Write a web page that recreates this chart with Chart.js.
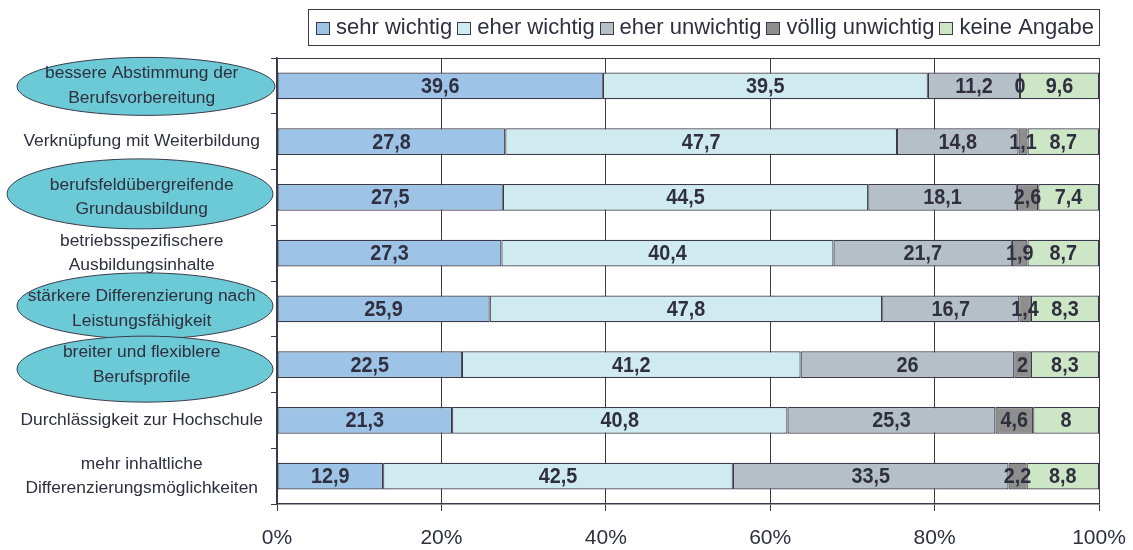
<!DOCTYPE html>
<html>
<head>
<meta charset="utf-8">
<script src="https://cdn.jsdelivr.net/npm/chart.js@4.4.1/dist/chart.umd.min.js"></script>
<style>
  html, body { margin: 0; padding: 0; background: #ffffff; }
  #wrap { width: 1133px; height: 550px; position: relative; }
</style>
</head>
<body>
<div id="wrap"><canvas id="c"></canvas></div>
<script>
// ---- data ----
const categories = [
  ["bessere Abstimmung der", "Berufsvorbereitung"],
  "Verknüpfung mit Weiterbildung",
  ["berufsfeldübergreifende", "Grundausbildung"],
  ["betriebsspezifischere", "Ausbildungsinhalte"],
  ["stärkere Differenzierung nach", "Leistungsfähigkeit"],
  ["breiter und flexiblere", "Berufsprofile"],
  "Durchlässigkeit zur Hochschule",
  ["mehr inhaltliche", "Differenzierungsmöglichkeiten"]
];
const seriesNames = ["sehr wichtig", "eher wichtig", "eher unwichtig", "völlig unwichtig", "keine Angabe"];
const sehrWichtig     = [39.6, 27.8, 27.5, 27.3, 25.9, 22.5, 21.3, 12.9];
const eherWichtig     = [39.5, 47.7, 44.5, 40.4, 47.8, 41.2, 40.8, 42.5];
const eherUnwichtig   = [11.2, 14.8, 18.1, 21.7, 16.7, 26.0, 25.3, 33.5];
const voelligUnwichtig= [0,    1.1,  2.6,  1.9,  1.4,  2.0,  4.6,  2.2];
const keineAngabe     = [9.6,  8.7,  7.4,  8.7,  8.3,  8.3,  8.0,  8.8];
const xTickValues = [0, 20, 40, 60, 80, 100];
const highlighted = [0, 2, 4, 5]; // categories shown in ellipses

// ---- styling ----
const colors = ["#9DC3E6", "#CFEBF0", "#B5BFC6", "#8E8E8E", "#CDE6C5"];
const rawSeries = [sehrWichtig, eherWichtig, eherUnwichtig, voelligUnwichtig, keineAngabe];
const rowSums = categories.map((_, i) => rawSeries.reduce((s, arr) => s + arr[i], 0));
const textColor = "#2f2f3f";
const lineColor = "#3a3a4a";
const FONT = "'Liberation Sans', Arial, sans-serif";

const datasets = rawSeries.map((arr, k) => ({
  label: seriesNames[k],
  data: arr.map((v, i) => v / rowSums[i] * 100),
  raw: arr,
  backgroundColor: colors[k],
  borderColor: lineColor,
  borderWidth: 1.2,
  borderSkipped: false,
  barPercentage: 0.48,
  categoryPercentage: 1.0
}));

const ellipseStyle = {
  0: { cx: 146, dy: 0.5, rx: 129, ry: 29 },
  2: { cx: 140, dy: -3.5, rx: 133, ry: 35 },
  4: { cx: 145, dy: -3, rx: 128, ry: 33 },
  5: { cx: 145, dy: 4.5, rx: 128, ry: 33 }
};

const ellipsePlugin = {
  id: 'ellipses',
  beforeDraw(chart) {
    const ctx = chart.ctx, y = chart.scales.y;
    ctx.save();
    highlighted.forEach(i => {
      const s = ellipseStyle[i];
      const cy = y.getPixelForValue(i) + s.dy;
      ctx.beginPath();
      ctx.ellipse(s.cx, cy, s.rx, s.ry, 0, 0, Math.PI * 2);
      ctx.fillStyle = "#6CCAD6";
      ctx.fill();
      ctx.lineWidth = 1;
      ctx.strokeStyle = "#3a3a4a";
      ctx.stroke();
    });
    ctx.restore();
  }
};

const framePlugin = {
  id: 'frame',
  beforeDatasetsDraw(chart) {
    const ctx = chart.ctx, a = chart.chartArea;
    ctx.save();
    ctx.strokeStyle = lineColor;
    ctx.lineWidth = 1;
    ctx.beginPath();
    ctx.moveTo(a.left, Math.round(a.top) + 0.5);
    ctx.lineTo(a.right, Math.round(a.top) + 0.5);
    ctx.stroke();
    ctx.restore();
  },
  afterDraw(chart) {
    const lg = chart.legend;
    if (!lg || !lg.legendHitBoxes || !lg.legendHitBoxes.length) return;
    const hb = lg.legendHitBoxes;
    const first = hb[0], last = hb[hb.length - 1];
    const ctx = chart.ctx;
    const cy = first.top + first.height / 2;
    ctx.save();
    // legend squares
    hb.forEach((h, i) => {
      const bx = Math.round(h.left) + 0.5, by = Math.round(cy - 6.5) + 0.5;
      ctx.fillStyle = colors[i];
      ctx.fillRect(bx, by, 13, 12);
      ctx.strokeStyle = lineColor;
      ctx.lineWidth = 1;
      ctx.strokeRect(bx, by, 13, 12);
    });
    // legend frame
    ctx.strokeStyle = lineColor;
    ctx.lineWidth = 1;
    const l = Math.round(first.left - 8) + 0.5;
    const r = Math.round(last.left + last.width + 5) + 0.5;
    const t = Math.round(cy - 19) + 0.5;
    const b = Math.round(cy + 17) + 0.5;
    ctx.strokeRect(l, t, r - l, b - t);
    ctx.restore();
  }
};

const valueLabelPlugin = {
  id: 'valueLabels',
  afterDatasetsDraw(chart) {
    const ctx = chart.ctx;
    ctx.save();
    ctx.font = "bold 22px " + FONT;
    ctx.fillStyle = textColor;
    ctx.textAlign = "center";
    ctx.textBaseline = "middle";
    chart.data.datasets.forEach((ds, k) => {
      const meta = chart.getDatasetMeta(k);
      meta.data.forEach((el, i) => {
        const p = el.getProps(['x', 'y', 'base'], true);
        const cx = (p.x + p.base) / 2;
        const txt = String(ds.raw[i]).replace('.', ',');
        ctx.save();
        ctx.translate(cx, p.y + 1);
        ctx.scale(0.9, 1);
        ctx.fillText(txt, 0, 0);
        ctx.restore();
      });
    });
    ctx.restore();
  }
};

new Chart(document.getElementById('c'), {
  type: 'bar',
  data: { labels: categories, datasets },
  plugins: [ellipsePlugin, framePlugin, valueLabelPlugin],
  options: {
    indexAxis: 'y',
    responsive: true,
    maintainAspectRatio: false,
    animation: false,
    layout: { padding: { top: 12, right: 0, bottom: 0, left: 0 } },
    plugins: {
      tooltip: { enabled: false },
      legend: {
        position: 'top',
        align: 'end',
        fullSize: false,
        labels: {
          boxWidth: 9,
          boxHeight: 13,
          padding: 5,
          color: textColor,
          font: { family: FONT, size: 22 },
          generateLabels(chart) {
            return chart.data.datasets.map((ds, i) => ({
              text: ds.label,
              fillStyle: 'rgba(0,0,0,0)',
              strokeStyle: 'rgba(0,0,0,0)',
              lineWidth: 0,
              datasetIndex: i,
              fontColor: textColor
            }));
          }
        }
      }
    },
    scales: {
      x: {
        stacked: true,
        min: 0,
        max: 100,
        afterBuildTicks(scale) { scale.ticks = xTickValues.map(v => ({ value: v })); },
        afterFit(scale) { scale.height = 46; scale.paddingRight = 34; scale.paddingLeft = 0; },
        ticks: {
          callback: v => v + '%',
          color: textColor,
          font: { family: FONT, size: 21 },
          padding: 15,
          maxRotation: 0
        },
        grid: { color: lineColor, lineWidth: 1, tickLength: 7, drawTicks: true },
        border: { color: lineColor, width: 1.5 }
      },
      xTopSpacer: {
        type: 'linear',
        position: 'top',
        display: true,
        min: 0,
        max: 1,
        afterFit(scale) { scale.height = 9; scale.paddingRight = 0; scale.paddingLeft = 0; },
        ticks: { display: false },
        grid: { display: false, drawTicks: false },
        border: { display: false }
      },
      y: {
        stacked: true,
        afterFit(scale) { scale.width = 277; },
        ticks: {
          color: textColor,
          font: { family: FONT, size: 17.4, lineHeight: 1.4 },
          crossAlign: 'center',
          padding: 8
        },
        grid: { drawOnChartArea: false, color: lineColor, tickLength: 6, offset: true },
        border: { color: lineColor, width: 1.5 }
      }
    }
  }
});
</script>
</body>
</html>
